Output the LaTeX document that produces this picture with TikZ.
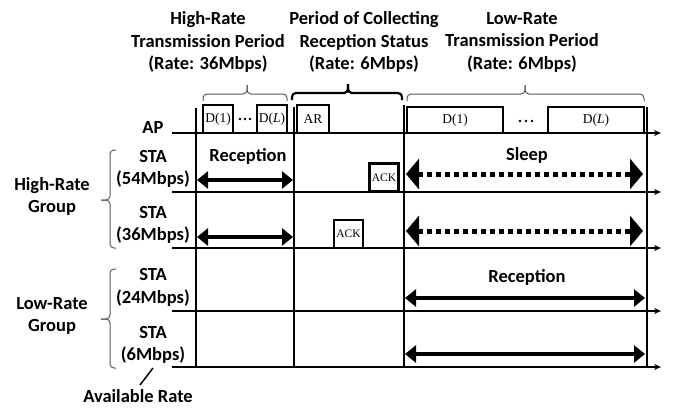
\documentclass[tikz,border=0pt]{standalone}
\usepackage{fontspec}
\setmainfont{Carlito}
\newfontfamily\pktfont{Liberation Serif}
\usetikzlibrary{arrows.meta}
\newcommand\topbr[5]{% x1, x2, tip, y, style
  \draw[#5,rounded corners=4pt] (#1,#4+7) -- (#1,#4) -- (#3,#4) -- (#3,#4-9);
  \draw[#5,rounded corners=4pt] (#2,#4+7) -- (#2,#4) -- (#3,#4) -- (#3,#4-9);}
\newcommand\leftbr[4]{% x, y1, y2, tip y
  \draw[brc,rounded corners=4pt] (#1+6,#2) -- (#1,#2) -- (#1,#4) -- (#1-9,#4);
  \draw[brc,rounded corners=4pt] (#1+6,#3) -- (#1,#3) -- (#1,#4) -- (#1-9,#4);}
\begin{document}
\begin{tikzpicture}[x=1pt,y=-1pt,
  lbl/.style={font=\fontsize{18.5}{22.5}\selectfont\bfseries, align=center, inner sep=0pt},
  axis/.style={line width=2pt, -{Stealth[length=7pt,width=6pt]}},
  vline/.style={line width=2.6pt},
  pkt/.style={draw, line width=2.6pt, font=\fontsize{13.5}{13.5}\pktfont, inner sep=0pt, minimum height=28pt},
  ack/.style={pkt, font=\fontsize{11.5}{12}\pktfont, minimum width=29pt},
  brc/.style={line width=1pt, gray!70!black},
  brcb/.style={line width=2.2pt, black},
  solarr/.style={line width=3.5pt, {Triangle[length=11pt,width=17pt]}-{Triangle[length=11pt,width=17pt]}},
  dotarr/.style={line width=5pt, dash pattern=on 5pt off 4pt, {Triangle[length=13pt,width=30pt]}-{Triangle[length=13pt,width=30pt]}},
  dot/.style={circle, fill, inner sep=0pt, minimum size=2.6pt}
]
\useasboundingbox (0,0) rectangle (674,408);

% titles
\node[lbl] (t1) at (208,42) {High-Rate\\Transmission Period\\(Rate: 36Mbps)};
\node[lbl] (t2) at (364,42) {Period of Collecting\\Reception Status\\(Rate: 6Mbps)};
\node[lbl] (t3) at (522,42) {Low-Rate\\Transmission Period\\(Rate: 6Mbps)};

% top braces
\topbr{203}{287}{247}{94}{brc}
\topbr{292}{402}{348}{93}{brcb}
\topbr{407}{644}{525}{94}{brc}

% row labels
\node[lbl] (ap) at (153,127) {AP};
\node[lbl] (s54) at (153,169) {STA\\(54Mbps)};
\node[lbl] (s36) at (153,225) {STA\\(36Mbps)};
\node[lbl] (s24) at (153,287.5) {STA\\(24Mbps)};
\node[lbl] (s6) at (153,345) {STA\\(6Mbps)};
\node[lbl] (hg) at (52,196.5) {High-Rate\\Group};
\node[lbl] (lg) at (52,316) {Low-Rate\\Group};
\node[lbl] (avr) at (138,396) {Available Rate};

% left braces
\leftbr{110}{150}{248}{200}
\leftbr{110}{269}{368}{319}

% available rate pointer
\coordinate (pA) at (153,368);
\coordinate (pB) at (140,385);
\draw[line width=1.5pt] (pA) -- (pB);

% axes
\foreach \yy/\nm in {133/apx,192/s54x,248/s36x,311/s24x,367/s6x}{
  \coordinate (\nm a) at (172,\yy);
  \coordinate (\nm b) at (661,\yy);
  \draw[axis] (\nm a) -- (\nm b);
}

% vertical period separators
\foreach \xx/\top in {196/108,294/107,404/105,647/107}{
  \draw[vline] (\xx,\top) -- (\xx,367);
}

% AP packets
\node[pkt, minimum width=30pt] (apd1) at (218,119) {D(1)};
\node[pkt, minimum width=30pt] (apdl) at (272,119) {D(\textit{L})};
\node[dot] at (240,119) {}; \node[dot] at (245,119) {}; \node[dot] at (250,119) {};
\node[pkt, minimum width=32pt] (apar) at (313,119) {AR};
\node[pkt, minimum width=96pt, minimum height=26pt] (apld1) at (455,120) {D(1)};
\node[dot] at (520,121) {}; \node[dot] at (526,121) {}; \node[dot] at (532,121) {};
\node[pkt, minimum width=96pt, minimum height=26pt] (apldl) at (596,120) {D(\textit{L})};

% ACKs
\node[ack] (ack1) at (384,177.5) {ACK};
\node[ack] (ack2) at (348.5,234) {ACK};

% high-rate reception
\node[lbl] (rec1) at (248,156) {Reception};
\coordinate (r54a) at (197,180); \coordinate (r54b) at (293,180);
\draw[solarr] (r54a) -- (r54b);
\coordinate (r36a) at (197,237); \coordinate (r36b) at (293,237);
\draw[solarr] (r36a) -- (r36b);

% sleep
\node[lbl] (slp) at (527,155) {Sleep};
\coordinate (sl54a) at (406,174); \coordinate (sl54b) at (643,174);
\draw[dotarr] (sl54a) -- (sl54b);
\coordinate (sl36a) at (406,231); \coordinate (sl36b) at (643,231);
\draw[dotarr] (sl36a) -- (sl36b);

% low-rate reception
\node[lbl] (rec2) at (527,277) {Reception};
\coordinate (r24a) at (405,298); \coordinate (r24b) at (645,298);
\draw[solarr] (r24a) -- (r24b);
\coordinate (r6a) at (405,354); \coordinate (r6b) at (645,354);
\draw[solarr] (r6a) -- (r6b);
\end{tikzpicture}
\end{document}
